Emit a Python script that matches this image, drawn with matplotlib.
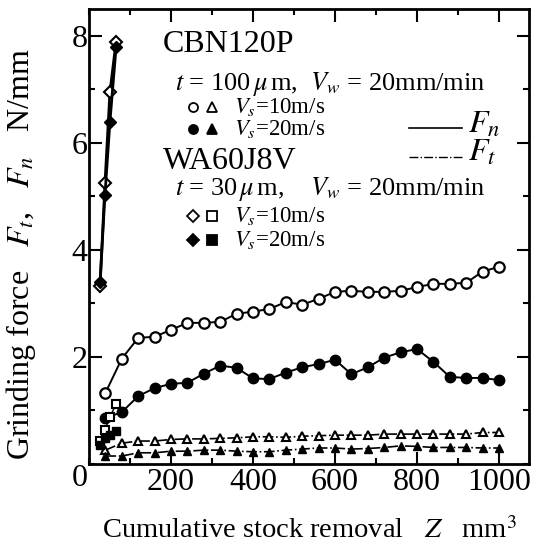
import matplotlib
matplotlib.use('Agg')
from matplotlib import pyplot as plt
from matplotlib.ticker import MultipleLocator

plt.rcParams['font.family'] = ['Liberation Serif', 'DejaVu Serif']
plt.rcParams['mathtext.fontset'] = 'stix'

# CBN120P, t = 100 um
z_cbn = [40, 80, 120, 160, 200, 240, 280, 320, 360, 400, 440, 480, 520,
         560, 600, 640, 680, 720, 760, 800, 840, 880, 920, 960, 1000]
fn_cbn_10 = [1.32, 1.96, 2.35, 2.37, 2.50, 2.63, 2.63, 2.65, 2.80, 2.84,
             2.89, 3.02, 2.97, 3.08, 3.21, 3.23, 3.21, 3.21, 3.23, 3.30,
             3.36, 3.36, 3.38, 3.59, 3.68]
fn_cbn_20 = [0.85, 0.96, 1.26, 1.41, 1.49, 1.51, 1.68, 1.83, 1.79, 1.59,
             1.58, 1.70, 1.80, 1.86, 1.94, 1.67, 1.80, 1.98, 2.08, 2.14,
             1.90, 1.62, 1.60, 1.60, 1.56]
ft_cbn_10 = [0.25, 0.38, 0.42, 0.42, 0.45, 0.46, 0.46, 0.47, 0.48, 0.50,
             0.50, 0.49, 0.51, 0.52, 0.53, 0.53, 0.53, 0.55, 0.55, 0.55,
             0.55, 0.55, 0.55, 0.58, 0.58]
ft_cbn_20 = [0.14, 0.14, 0.20, 0.20, 0.23, 0.23, 0.25, 0.25, 0.23, 0.22,
             0.22, 0.25, 0.27, 0.29, 0.29, 0.27, 0.28, 0.30, 0.33, 0.32,
             0.30, 0.30, 0.30, 0.29, 0.29]

# WA60J8V, t = 30 um
z_wa = [27, 39, 51, 66]
fn_wa_10 = [3.32, 5.25, 6.94, 7.89]
fn_wa_20 = [3.40, 5.03, 6.39, 7.78]
ft_wa_10 = [0.42, 0.63, 0.87, 1.11]
ft_wa_20 = [0.35, 0.48, 0.53, 0.61]

x_ticks = [200, 400, 600, 800, 1000]
y_ticks = [2, 4, 6, 8]

fig = plt.figure(figsize=(5.39, 5.46), dpi=100)
ax = fig.add_axes([89 / 539, 1 - 463.5 / 546, 440 / 539, 454.5 / 546])

k = dict(color='black', clip_on=False)
ax.plot(z_cbn, fn_cbn_10, '-o', lw=1.4, ms=7.5, mfc='white', mew=1.6, **k)
ax.plot(z_cbn, fn_cbn_20, '-o', lw=1.4, ms=7.5, mfc='black', **k)
ax.plot(z_cbn, ft_cbn_10, '^', ls='-.', lw=1.2, ms=6, mfc='white', mew=1.5, **k)
ax.plot(z_cbn, ft_cbn_20, '^', ls='-.', lw=1.2, ms=6, mfc='black', **k)
ax.plot(z_wa, fn_wa_10, '-D', lw=2.0, ms=6.5, mfc='white', mew=1.5, **k)
ax.plot(z_wa, fn_wa_20, '-D', lw=2.0, ms=6.5, mfc='black', **k)
ax.plot(z_wa, ft_wa_10, 's', ls='-.', lw=1.0, ms=6, mfc='white', mew=1.5, **k)
ax.plot(z_wa, ft_wa_20, 's', ls='-.', lw=1.0, ms=6, mfc='black', **k)

ax.set_xlim(0, 1073)
ax.set_ylim(0, 8.5)
ax.set_xticks(x_ticks)
ax.set_yticks(y_ticks)
ax.xaxis.set_minor_locator(MultipleLocator(100))
ax.yaxis.set_minor_locator(MultipleLocator(1))
ax.tick_params(which='both', direction='in', top=True, right=True,
               labelsize=23, width=1.5)
ax.tick_params(axis='x', pad=3)
ax.tick_params(axis='y', pad=1)
ax.tick_params(which='major', length=9)
ax.tick_params(which='minor', length=4)
for s in ax.spines.values():
    s.set_linewidth(2)
ax.text(-0.02, -0.034, '0', transform=ax.transAxes, fontsize=23,
        ha='center', va='center')

ax.set_xlabel(r'Cumulative stock removal   $Z$   mm$^3$', fontsize=20.5,
              labelpad=15)
ax.set_ylabel(r'Grinding force   $F_t$,   $F_n$   N/mm', fontsize=23)
ax.yaxis.set_label_coords(-0.115, 0.46)

# legend block
tr = ax.transAxes
ax.text(0.168, 0.921, 'CBN120P', transform=tr, fontsize=23, va='center')
ax.text(0.195, 0.834, r'$t$ = 100$\,\mu\,$m,  $V_w$ = 20mm/min',
        transform=tr, fontsize=19, va='center')
ax.text(0.168, 0.665, 'WA60J8V', transform=tr, fontsize=23, va='center')
ax.text(0.195, 0.603, r'$t$ = 30$\,\mu\,$m,    $V_w$ = 20mm/min',
        transform=tr, fontsize=19, va='center')

rows = [(0.784, 'o', 'white', '^', 'white', '10'),
        (0.736, 'o', 'black', '^', 'black', '20'),
        (0.544, 'D', 'white', 's', 'white', '10'),
        (0.492, 'D', 'black', 's', 'black', '20')]
for y, m1, f1, m2, f2, v in rows:
    ax.plot([0.236], [y], m1, mfc=f1, mec='black', ms=6.5, mew=1.3,
            transform=tr, clip_on=False)
    ax.plot([0.280], [y], m2, mfc=f2, mec='black', ms=6.5, mew=1.3,
            transform=tr, clip_on=False)
    ax.text(0.330, y, r'$V_s$=' + v + 'm/s', transform=tr, fontsize=16.5,
            va='center')

ax.plot([0.727, 0.848], [0.738, 0.738], '-', color='black', lw=1.2,
        transform=tr)
ax.plot([0.727, 0.848], [0.674, 0.674], '-.', color='black', lw=1.0,
        transform=tr)
ax.text(0.862, 0.745, r'$F_n$', transform=tr, fontsize=23, va='center')
ax.text(0.862, 0.683, r'$F_t$', transform=tr, fontsize=23, va='center')

plt.savefig('out.png', dpi=100)
